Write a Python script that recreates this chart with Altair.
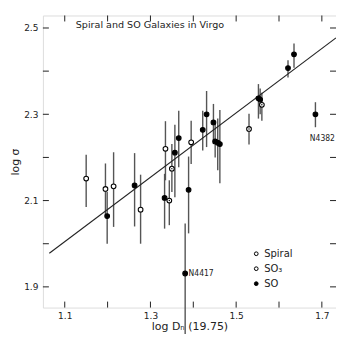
import altair as alt
import pandas as pd

# ---- data ----
gal_x = [1.150, 1.195, 1.199, 1.214, 1.263, 1.277, 1.335, 1.333, 1.357, 1.350,
         1.344, 1.366, 1.395, 1.389, 1.381, 1.422, 1.431, 1.447, 1.451, 1.457,
         1.462, 1.530, 1.552, 1.556, 1.560, 1.621, 1.635, 1.685]
gal_y = [2.151, 2.127, 2.064, 2.133, 2.135, 2.079, 2.220, 2.106, 2.211, 2.174,
         2.100, 2.245, 2.235, 2.125, 1.931, 2.264, 2.300, 2.281, 2.237, 2.234,
         2.231, 2.266, 2.337, 2.334, 2.322, 2.407, 2.439, 2.300]
gal_lo = [2.085, 2.067, 2.000, 2.039, 2.040, 2.000, 2.147, 2.035, 2.108, 2.120,
          2.043, 2.177, 2.185, 2.024, 1.780, 2.216, 2.224, 2.231, 2.200, 2.170,
          2.140, 2.230, 2.290, 2.300, 2.285, 2.385, 2.408, 2.270]
gal_hi = [2.206, 2.186, 2.120, 2.212, 2.210, 2.160, 2.284, 2.162, 2.276, 2.231,
          2.147, 2.308, 2.285, 2.202, 2.047, 2.308, 2.354, 2.324, 2.280, 2.290,
          2.310, 2.301, 2.370, 2.360, 2.350, 2.425, 2.464, 2.328]
gal_type = ["Spiral", "Spiral", "SO", "Spiral", "SO", "Spiral", "Spiral", "SO", "SO", "SO3",
            "SO3", "SO", "Spiral", "SO", "SO", "SO", "SO", "SO", "SO", "SO",
            "SO", "SO3", "SO", "SO", "SO3", "SO", "SO", "SO"]

fit_x = [1.064, 1.733]
fit_y = [1.978, 2.477]

name_labels = ["N4417", "N4382"]
name_x = [1.389, 1.672]
name_y = [1.931, 2.245]

x_major = [1.1, 1.3, 1.5, 1.7]
x_minor = [1.2, 1.4, 1.6]
y_major = [1.9, 2.1, 2.3, 2.5]
y_minor = [2.0, 2.2, 2.4]

legend_labels = ["Spiral", "SO3", "SO"]
legend_text = ["Spiral", "SO₃", "SO"]

title_text = "Spiral and SO Galaxies in Virgo"

W, H = 294, 293
XD = [1.049, 1.733]
YD = [1.852, 2.529]
FONT = "DejaVu Sans"
INK = "#222222"

df = pd.DataFrame({"x": gal_x, "y": gal_y, "lo": gal_lo, "hi": gal_hi, "t": gal_type})
xs = alt.Scale(domain=XD, nice=False, zero=False)
ys = alt.Scale(domain=YD, nice=False, zero=False)

xaxis = alt.Axis(values=x_major, format=".1f", title="log Dₙ  (19.75)", domain=False, ticks=False,
                 grid=False, labelFont=FONT, labelFontSize=9, labelColor=INK, labelPadding=4,
                 titleFont=FONT, titleFontSize=11, titleFontWeight="normal", titleColor=INK,
                 titlePadding=0)
yaxis = alt.Axis(values=y_major, format=".1f", title="log σ", domain=False, ticks=False,
                 grid=False, labelFont=FONT, labelFontSize=9, labelColor=INK, labelPadding=5,
                 titleFont=FONT, titleFontSize=11, titleFontWeight="normal", titleColor=INK,
                 titlePadding=3)

fill_scale = alt.Scale(domain=legend_labels, range=["white", "white", "black"])

base = alt.Chart(df)
bars = base.mark_rule(color="#555555", strokeWidth=1.4).encode(
    x=alt.X("x:Q", scale=xs, axis=xaxis), y=alt.Y("lo:Q", scale=ys, axis=yaxis), y2="hi:Q")

pts = base.mark_point(shape="circle", size=22, filled=True, stroke="black", strokeWidth=1.1,
                      opacity=1).encode(
    x="x:Q", y="y:Q", fill=alt.Fill("t:N", scale=fill_scale, legend=None))
dots = base.transform_filter(alt.datum.t == "SO3").mark_point(
    shape="circle", size=2, filled=True, color="black", opacity=1).encode(x="x:Q", y="y:Q")

fit = alt.Chart(pd.DataFrame({"x": fit_x, "y": fit_y})).mark_line(
    color=INK, strokeWidth=1.1).encode(x="x:Q", y="y:Q")

names = alt.Chart(pd.DataFrame({"x": name_x, "y": name_y, "n": name_labels})).mark_text(
    font="DejaVu Sans Condensed", fontSize=8.5, color=INK, align="left", baseline="middle"
).encode(x="x:Q", y="y:Q", text="n:N")

# ticks (inward, mirrored)
tx = pd.DataFrame({"v": x_major + x_minor})
ty = pd.DataFrame({"v": y_major + y_minor})
tick_b = alt.Chart(tx).mark_rule(color=INK, strokeWidth=1).encode(
    x="v:Q", y=alt.value(H), y2=alt.value(H - 6))
tick_t = alt.Chart(tx).mark_rule(color=INK, strokeWidth=1).encode(
    x="v:Q", y=alt.value(0), y2=alt.value(6))
tick_l = alt.Chart(ty).mark_rule(color=INK, strokeWidth=1).encode(
    y="v:Q", x=alt.value(0), x2=alt.value(6))
tick_r = alt.Chart(ty).mark_rule(color=INK, strokeWidth=1).encode(
    y="v:Q", x=alt.value(W), x2=alt.value(W - 6))

title = alt.Chart(pd.DataFrame({"s": [title_text]})).mark_text(
    font=FONT, fontSize=9.6, color=INK, align="left", baseline="middle"
).encode(x=alt.value(33), y=alt.value(10), text="s:N")

leg_layers = []
for i, (lab, txt) in enumerate(zip(legend_labels, legend_text)):
    one = alt.Chart(pd.DataFrame({"t": [lab], "s": [txt]}))
    yv = 239 + i * 15
    leg_layers.append(one.mark_point(shape="circle", size=14, filled=True, stroke="black",
                                     strokeWidth=1, opacity=1).encode(
        x=alt.value(214), y=alt.value(yv), fill=alt.Fill("t:N", scale=fill_scale, legend=None)))
    leg_layers.append(one.mark_text(font=FONT, fontSize=10, color=INK, align="left",
                                    baseline="middle").encode(
        x=alt.value(222), y=alt.value(yv), text="s:N"))

chart = alt.layer(bars, fit, pts, dots, names, tick_b, tick_t, tick_l, tick_r, title,
                  *leg_layers).properties(
    width=W, height=H,
    autosize=alt.AutoSizeParams(type="none"),
    padding={"left": 35, "top": 7, "right": 0, "bottom": 26},
).configure_view(stroke=INK, strokeWidth=1.2).configure(background="white")

chart.save("out.html", embed_options={"renderer": "svg", "actions": False})
